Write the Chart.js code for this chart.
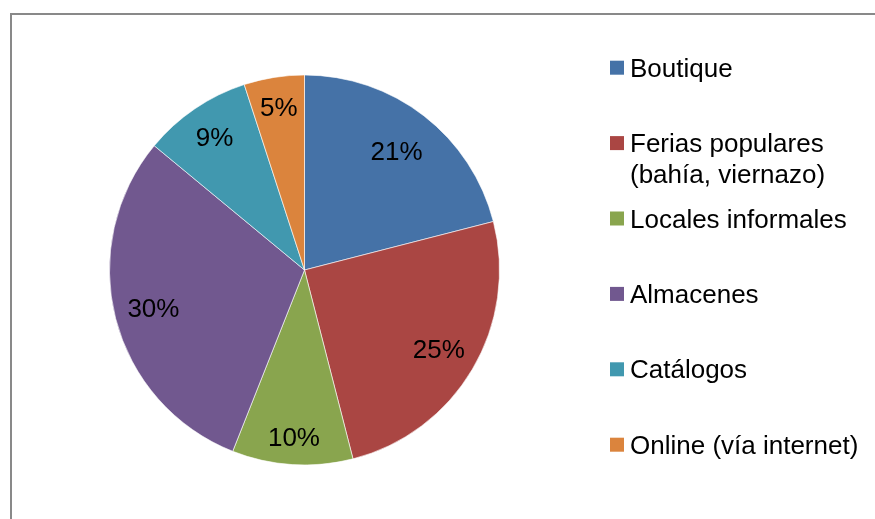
<!DOCTYPE html>
<html>
<head>
<meta charset="utf-8">
<script src="https://cdn.jsdelivr.net/npm/chart.js@4/dist/chart.umd.min.js"></script>
<style>
  html, body { margin: 0; padding: 0; background: #ffffff; }
  #wrap { position: relative; width: 875px; height: 519px; overflow: hidden; background: #fff; }
  #frame { position: absolute; left: 10px; top: 13px; width: 900px; height: 560px; border: 2px solid #898989; box-sizing: border-box; }
  canvas { position: absolute; left: 0; top: 0; }
</style>
</head>
<body>
<div id="wrap">
  <div id="frame"></div>
  <canvas id="c" width="875" height="519"></canvas>
</div>
<script>
const categories = ['Boutique', 'Ferias populares (bahía, viernazo)', 'Locales informales', 'Almacenes', 'Catálogos', 'Online (vía internet)'];
const percentages = [21, 25, 10, 30, 9, 5];
const sliceColors = ['#4572A7', '#AA4643', '#89A54E', '#71588F', '#4198AF', '#DB843D'];

const FONT = '"Liberation Sans", Arial, Helvetica, sans-serif';

const pctLabels = {
  id: 'pctLabels',
  afterDatasetsDraw(chart, args, opts) {
    const ctx = chart.ctx;
    const meta = chart.getDatasetMeta(0);
    const ds = chart.data.datasets[0];
    const radii = opts.radii || [];
    ctx.save();
    ctx.fillStyle = '#000';
    ctx.font = '26px ' + FONT;
    ctx.textAlign = 'center';
    ctx.textBaseline = 'middle';
    meta.data.forEach((arc, i) => {
      const p = arc.getProps(['x', 'y', 'startAngle', 'endAngle', 'outerRadius'], true);
      const mid = (p.startAngle + p.endAngle) / 2;
      const r = p.outerRadius * (radii[i] || 0.8);
      ctx.fillText(ds.data[i] + '%', p.x + Math.cos(mid) * r, p.y + Math.sin(mid) * r + 1);
    });
    ctx.restore();
  }
};

const sideLegend = {
  id: 'sideLegend',
  afterDraw(chart) {
    const ctx = chart.ctx;
    const labels = chart.data.labels;
    const colors = chart.data.datasets[0].backgroundColor;
    const boxX = 610, textX = 630, firstBase = 76.7, step = 75.4, lineH = 31, maxW = 236;
    ctx.save();
    ctx.font = '26px ' + FONT;
    ctx.textBaseline = 'alphabetic';
    ctx.textAlign = 'left';
    labels.forEach((lab, i) => {
      const base = firstBase + step * i;
      ctx.fillStyle = colors[i];
      ctx.fillRect(boxX, base - 16, 14, 14);
      const words = lab.split(' ');
      const lines = [];
      let cur = '';
      words.forEach(w => {
        const t = cur ? cur + ' ' + w : w;
        if (ctx.measureText(t).width > maxW && cur) { lines.push(cur); cur = w; }
        else cur = t;
      });
      if (cur) lines.push(cur);
      ctx.fillStyle = '#000';
      lines.forEach((ln, k) => ctx.fillText(ln, textX, base + k * lineH));
    });
    ctx.restore();
  }
};

new Chart(document.getElementById('c'), {
  type: 'pie',
  data: {
    labels: categories,
    datasets: [{
      data: percentages,
      backgroundColor: sliceColors,
      borderColor: 'rgba(255,255,255,0.6)',
      borderWidth: 1
    }]
  },
  options: {
    responsive: false,
    animation: false,
    layout: { padding: { left: 109, right: 375, top: 74.5, bottom: 53.5 } },
    plugins: {
      legend: { display: false },
      tooltip: { enabled: false },
      pctLabels: { radii: [0.77, 0.8, 0.86, 0.8, 0.82, 0.84] }
    }
  },
  plugins: [pctLabels, sideLegend]
});
</script>
</body>
</html>
